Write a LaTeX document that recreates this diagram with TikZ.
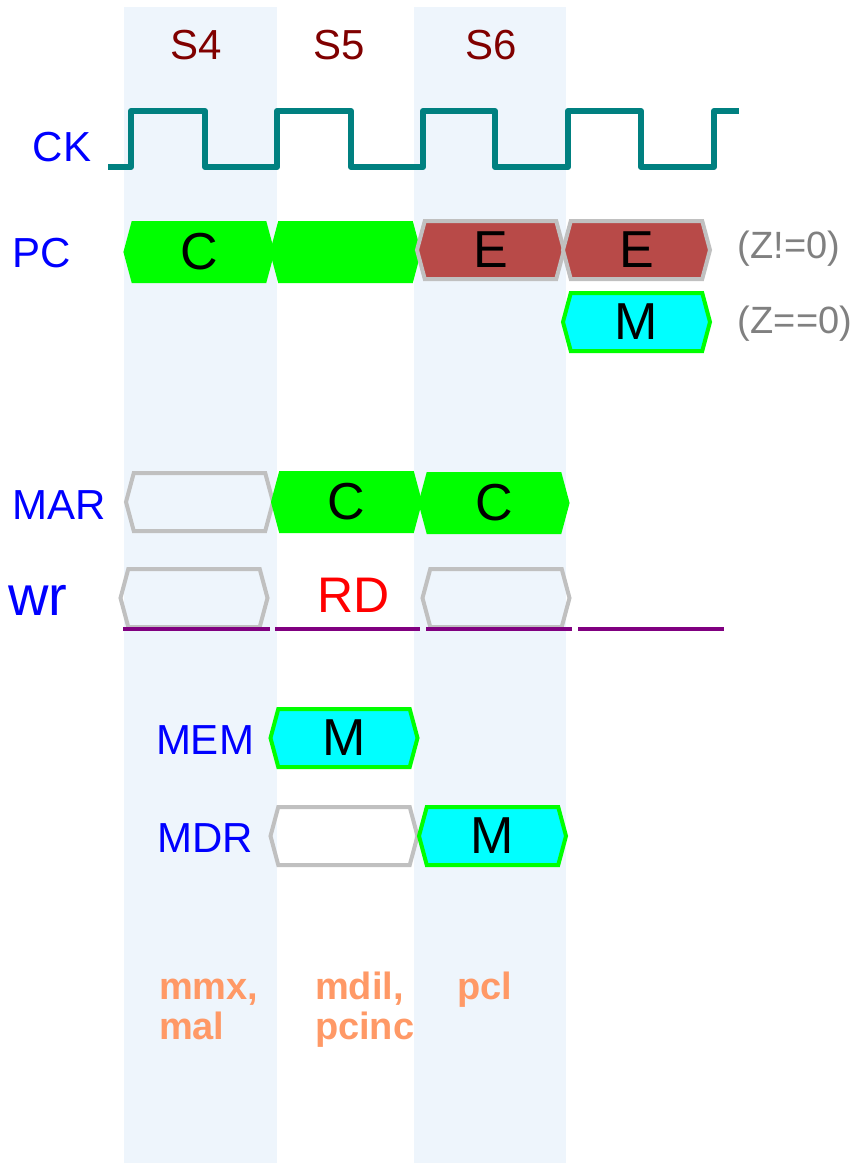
\documentclass[tikz,border=0pt]{standalone}
\usepackage{fontspec}
\setmainfont{Liberation Sans}
\usetikzlibrary{shapes.symbols}

\definecolor{colbg}{RGB}{238,245,252}
\definecolor{sgreen}{RGB}{0,255,0}
\definecolor{scyan}{RGB}{0,255,255}
\definecolor{sbrown}{RGB}{184,74,72}
\definecolor{sgray}{RGB}{192,192,192}
\definecolor{sorange}{RGB}{255,153,102}
\definecolor{spurple}{RGB}{128,0,128}
\definecolor{steal}{RGB}{0,128,128}

\tikzset{
  sig/.style={signal, signal to=west and east, signal pointer angle=150,
    minimum width=73.5pt, minimum height=29pt, inner sep=0pt, line width=2pt,
    font=\fontsize{26}{30}\selectfont},
  sigC/.style={sig, fill=sgreen, draw=sgreen},
  sigE/.style={sig, fill=sbrown, draw=sgray},
  sigM/.style={sig, fill=scyan, draw=sgreen},
  sigX/.style={sig, draw=sgray},
  lbl/.style={text=blue, font=\fontsize{21}{24}\selectfont},
  stage/.style={text=red!50!black, font=\fontsize{21}{24}\selectfont},
  cond/.style={text=gray, font=\fontsize{19}{22}\selectfont},
  ctrl/.style={text=sorange, align=left, anchor=base west,
    font=\fontsize{19}{20}\selectfont\bfseries},
}

\begin{document}
\begin{tikzpicture}[x=0.5pt,y=-0.5pt]
          \useasboundingbox (0,0) rectangle (857,1163);
          \fill[colbg] (124,7) rectangle (277,1163);   % S4
          \fill[colbg] (414,7) rectangle (566,1163);   % S6
          \node[stage] (s4) at (196,45) {S4};
          \node[stage] (s5) at (339,45) {S5};
          \node[stage] (s6) at (491,45) {S6};
          % clock
          \node[lbl] (ck) at (62,147) {CK};
          \draw[steal,line width=3pt,line join=round]
            (108,167) -- (131,167) -- (131,111) -- (205,111) -- (205,167)
            -- (277,167) -- (277,111) -- (351,111) -- (351,167)
            -- (423,167) -- (423,111) -- (495,111) -- (495,167)
            -- (568,167) -- (568,111) -- (641,111) -- (641,167)
            -- (714,167) -- (714,111) -- (739,111);
          % PC
          \node[lbl] (pc) at (42,253) {PC};
          \node[sigC] (pc1) at (199,252) {C};
          \node[sigC] (pc2) at (345.5,252) {};
          \node[sigE] (pc3) at (490.5,250) {E};
          \node[sigE] (pc4) at (636.5,250) {E};
          \node[cond] (zne) at (789,249) {(Z!=0)};
          \node[sigM] (pc5) at (636.5,322) {M};
          \node[cond] (zeq) at (795,324) {(Z==0)};
          % MAR
          \node[lbl] (mar) at (59,505) {MAR};
          \node[sigX] (mar1) at (199.5,502) {};
          \node[sigC] (mar2) at (346.5,502) {C};
          \node[sigC] (mar3) at (494,503) {C};
          % wr
          \node[lbl,font=\fontsize{28}{32}\selectfont] (wr) at (38,600) {wr};
          \node[sigX] (wr1) at (194,598) {};
          \node[text=red,font=\fontsize{25}{28}\selectfont] (rd) at (354,595) {RD};
          \node[sigX] (wr3) at (496,598) {};
          \draw[spurple,line width=1.75pt]
            (123,629) -- (270,629) (275,629) -- (420,629)
            (426,629) -- (572,629) (578,629) -- (724,629);
          % MEM, MDR
          \node[lbl] (mem) at (205,740) {MEM};
          \node[sigM] (mem1) at (344,738) {M};
          \node[lbl] (mdr) at (205,838) {MDR};
          \node[sigX] (mdr1) at (344,836) {};
          \node[sigM] (mdr2) at (492.5,836) {M};
          % control signals (base = last line)
          \node[ctrl] (c4) at (152,1039) {mmx,\\mal};
          \node[ctrl] (c5) at (308,1039) {mdil,\\pcinc};
          \node[ctrl] (c6) at (450,999) {pcl};
\end{tikzpicture}
\end{document}
